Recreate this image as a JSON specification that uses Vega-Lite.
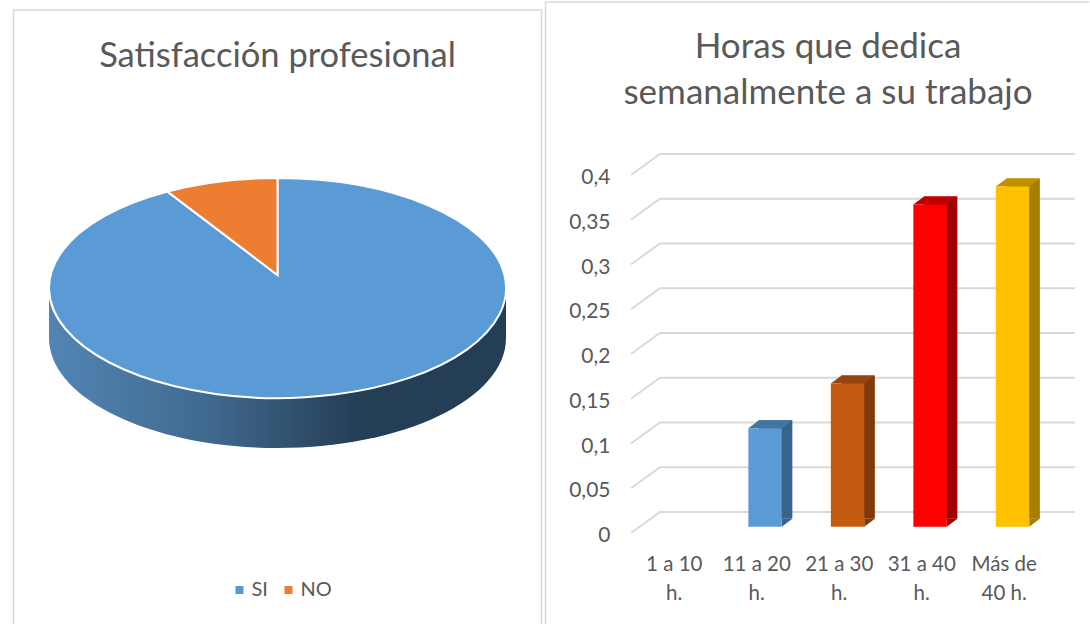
{
"$schema":"https://vega.github.io/schema/vega-lite/v6.json",
"padding":{"left":10.5,"top":-1,"right":0,"bottom":0},
"spacing":-2,
"background":"white",
"config":{"view":{"stroke":null},"font":"Lato","axis":{"labelFont":"Lato","labelColor":"#595959"},"legend":{"labelFont":"Lato"}},
"datasets":{
"pie":[{"categoria":"SI","valor":0.91},{"categoria":"NO","valor":0.09}],
"horas":[{"horas":"1 a 10 h.","valor":0},{"horas":"11 a 20 h.","valor":0.11},{"horas":"21 a 30 h.","valor":0.16},{"horas":"31 a 40 h.","valor":0.36},{"horas":"Más de 40 h.","valor":0.38}],
"marco":[{"marco":"panel"}],
"rejilla":[{"v":0},{"v":0.05},{"v":0.1},{"v":0.15},{"v":0.2},{"v":0.25},{"v":0.3},{"v":0.35},{"v":0.4}]
},
"hconcat":[
{
"width":528,"height":622,
"title":{"text":"Satisfacción profesional","font":"Lato","fontSize":34.5,"fontWeight":"normal","color":"#595959","anchor":"middle","offset":-72},
"layer":[
{"data":{"name":"marco"},"mark":{"type":"point","shape":"M-264,311 L-264,-303 L264,-303 L264,311","size":4,"filled":false,"fillOpacity":0,"stroke":"#D9D9D9","strokeWidth":1.5,"opacity":1}},
{"data":{"name":"pie"},"transform":[{"filter":"datum.categoria=='SI'"}],
"mark":{"type":"point","filled":true,"size":4,"opacity":1,"yOffset":-25,"shape":"M-228.5,0 L-228.5,50 A228.5,110 0 0 0 228.5,50 L228.5,0 Z",
"fill":{"gradient":"linear","x1":0,"y1":0,"x2":1,"y2":0,"stops":[{"offset":0,"color":"#5285B4"},{"offset":0.35,"color":"#41698F"},{"offset":0.67,"color":"#243E56"},{"offset":1,"color":"#243E56"}]}}},
{"data":{"name":"pie"},"transform":[{"filter":"datum.categoria=='SI'"}],
"mark":{"type":"point","filled":true,"size":4,"opacity":1,"yOffset":-25,"stroke":"white","strokeWidth":2,"shape":"M0,-13 L0,-110 A228.5,110 0 1 1 -110,-96.4 Z"},
"encoding":{
"color":{"field":"categoria","type":"nominal","scale":{"domain":["SI","NO"],"range":["#5B9BD5","#ED7D31"]},
"legend":{"title":null,"orient":"none","legendX":216,"legendY":578,"direction":"horizontal","symbolType":"square","symbolSize":64,"symbolStrokeWidth":0,"symbolOpacity":1,"labelFontSize":20,"labelColor":"#595959","labelOffset":2,"columnPadding":10}}
}},
{"data":{"name":"pie"},"transform":[{"filter":"datum.categoria=='NO'"}],
"mark":{"type":"point","filled":true,"size":4,"opacity":1,"yOffset":-25,"stroke":"white","strokeWidth":2,"shape":"M0,-13 L-110,-96.4 A228.5,110 0 0 1 0,-110 Z"},
"encoding":{
"color":{"field":"categoria","type":"nominal","scale":{"domain":["SI","NO"],"range":["#5B9BD5","#ED7D31"]}}
}}
]
},
{
"width":544,"height":622,
"title":{"text":["Horas que dedica","semanalmente a su trabajo"],"font":"Lato","fontSize":35,"fontWeight":"normal","color":"#595959","anchor":"middle","offset":-112,"dx":10.5,"lineHeight":46},
"encoding":{
"x":{"field":"horas","type":"nominal","sort":null,"title":null,
"scale":{"domain":["1 a 10 h.","11 a 20 h.","21 a 30 h.","31 a 40 h.","Más de 40 h."],"range":[87.5,500],"paddingInner":0,"paddingOuter":0},
"axis":{"orient":"bottom","ticks":false,"domain":false,"grid":false,"labelAngle":0,"labelFontSize":20.5,"labelColor":"#595959","labelLineHeight":29.5,"labelPadding":0,"offset":-70,"labelLimit":200,
"labelExpr":"datum.label=='Más de 40 h.'?['Más de','40 h.']:[replace(datum.label,' h.',''),'h.']"}},
"y":{"field":"valor","type":"quantitative","title":null,
"scale":{"domain":[0,0.4],"range":[524.7,166.7],"nice":false},
"axis":{"orient":"left","values":[0,0.05,0.1,0.15,0.2,0.25,0.3,0.35,0.4],"ticks":false,"domain":false,"grid":false,"labelFontSize":21,"labelColor":"#595959","labelPadding":0,"offset":-64.5,"labelOffset":9,
"labelExpr":"replace(toString(datum.value),'.',',')"}}
},
"layer":[
{"data":{"name":"marco"},"mark":{"type":"point","shape":"M-272,311 L-272,-311 L272,-311","size":4,"filled":false,"fillOpacity":0,"stroke":"#D9D9D9","strokeWidth":1.5,"opacity":1},"encoding":{"x":null,"y":null}},
{"data":{"name":"rejilla"},"mark":{"type":"point","shape":"M-43.3,6.3 L-14.3,-14.7 L400.7,-14.7","size":4,"filled":false,"fillOpacity":0,"stroke":"#D9D9D9","strokeWidth":2,"opacity":1},
"encoding":{"x":{"datum":"1 a 10 h."},"y":{"field":"v","type":"quantitative"}}},
{"data":{"name":"horas"},"transform":[{"filter":"datum.valor>0"}],"mark":{"type":"bar","size":33.4,"xOffset":18.9,"yOffset":-8,"y2Offset":-8},
"encoding":{"color":{"field":"horas","type":"nominal","legend":null,"scale":{"domain":["11 a 20 h.","21 a 30 h.","31 a 40 h.","Más de 40 h."],"range":["#38648C","#7F3A0B","#A00000","#A67D00"]}}}},
{"data":{"name":"horas"},"transform":[{"filter":"datum.valor>0"}],"mark":{"type":"point","filled":true,"size":4,"opacity":1,"xOffset":8.3,"shape":"M16.7,0 L16.7,-8 L27.3,-8 Z"},
"encoding":{"y":{"datum":0},"color":{"field":"horas","type":"nominal","legend":null,"scale":{"domain":["11 a 20 h.","21 a 30 h.","31 a 40 h.","Más de 40 h."],"range":["#38648C","#7F3A0B","#A00000","#A67D00"]}}}},
{"data":{"name":"horas"},"transform":[{"filter":"datum.valor>0"}],"mark":{"type":"point","filled":true,"size":4,"opacity":1,"xOffset":8.3,"shape":"M-16.7,0 L16.7,0 L27.3,-8 L-6.1,-8 Z"},
"encoding":{"color":{"field":"horas","type":"nominal","legend":null,"scale":{"domain":["11 a 20 h.","21 a 30 h.","31 a 40 h.","Más de 40 h."],"range":["#4474A0","#94450F","#C00000","#C09000"]}}}},
{"data":{"name":"horas"},"transform":[{"filter":"datum.valor>0"}],"mark":{"type":"bar","size":33.4,"xOffset":8.3},
"encoding":{"color":{"field":"horas","type":"nominal","legend":null,"scale":{"domain":["11 a 20 h.","21 a 30 h.","31 a 40 h.","Más de 40 h."],"range":["#5B9BD5","#C55A11","#FF0000","#FFC000"]}}}}
],
"resolve":{"scale":{"color":"independent"}}
}
]
}
